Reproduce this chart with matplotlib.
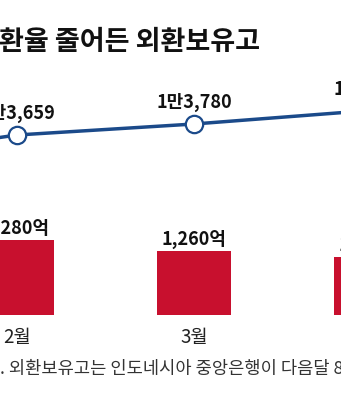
import matplotlib
matplotlib.use("Agg")
import matplotlib.pyplot as plt

plt.rcParams['font.family'] = ['Noto Sans CJK KR', 'DejaVu Sans']

# data
months = ['1월', '2월', '3월', '4월']
rate = [13380, 13659, 13780, 13930]          # 환율 (루피아/달러)
rate_labels = ['1만3,380', '1만3,659', '1만3,780', '1만3,930']
reserves = [1320, 1280, 1260, 1249]          # 외환보유고 (억 달러)
reserve_labels = ['1,320억', '1,280억', '1,260억', '1,249억']

NAVY = '#1b4a8a'
RED = '#c8102e'
W, H = 341, 400

fig = plt.figure(figsize=(W / 100, H / 100), dpi=100)
ax = fig.add_axes([0, 0, 1, 1])
ax2 = ax.twinx()
for a in (ax, ax2):
    a.set_axis_off()

x = list(range(len(months)))

# bars (truncated baseline, like the original graphic)
base = 1143.5
ax.bar(x, [v - base for v in reserves], bottom=base, width=0.418, color=RED)
for xi, v, lab in zip(x, reserves, reserve_labels):
    ax.annotate(lab, (xi, v), xytext=(0, 6), textcoords='offset pixels',
                ha='center', va='baseline', fontsize=13, fontweight='bold',
                color='#111111', annotation_clip=False)
for xi, m in zip(x, months):
    ax.text(xi, 1 - 337 / H, m, transform=ax.get_xaxis_transform(),
            ha='center', va='center', fontsize=13.5, color='#222222')

# line
ax2.plot(x, rate, color=NAVY, lw=2.5, marker='o', markersize=12.5,
         markerfacecolor='white', markeredgecolor=NAVY, markeredgewidth=1.6,
         zorder=3)
for xi, v, lab in zip(x, rate, rate_labels):
    ax2.annotate(lab, (xi, v), xytext=(0, 16), textcoords='offset pixels',
                 ha='center', va='baseline', fontsize=13, fontweight='bold',
                 color='#111111', annotation_clip=False)

# map data to the cropped canvas
ax.set_xlim(1 - 17 / 177, 1 + 324 / 177)
ax.set_ylim(1280 - (H - 240) * 1.82, 1280 + 240 * 1.82)
ax2.set_ylim(13780 - (H - 124) * 11, 13780 + 124 * 11)

fig.text(-0.003, 1 - 42 / H, '환율 줄어든 외환보유고', ha='left', va='center',
         fontsize=19.5, fontweight='bold', color='#111111')
fig.text(0.0, 1 - 369 / H, '. 외환보유고는 인도네시아 중앙은행이 다음달 8일 발표한다',
         ha='left', va='center', fontsize=12.7, color='#333333')

fig.savefig('out.png', dpi=100)
